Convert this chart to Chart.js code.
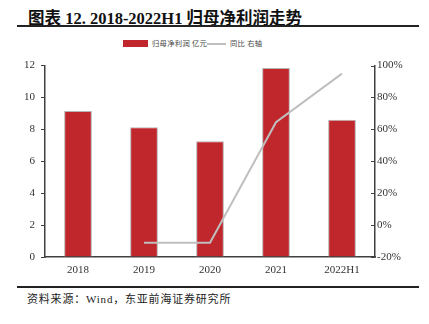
<!DOCTYPE html>
<html>
<head>
<meta charset="utf-8">
<script src="https://cdn.jsdelivr.net/npm/chart.js@4.4.0/dist/chart.umd.min.js"></script>
<style>
    body { margin: 0; width: 429px; height: 324px; background: #fff; position: relative; overflow: hidden; }
    #title { position: absolute; left: 28px; top: 5px; font: bold 16.5px "Liberation Serif", "Noto Sans CJK SC", serif; color: #111; white-space: nowrap; }
    .rule { position: absolute; left: 17px; width: 402px; height: 2px; background: #222; }
    #legend { position: absolute; top: 38px; left: 0; width: 429px; font: 7.3px "Noto Sans CJK SC", sans-serif; color: #444; letter-spacing: 0.3px; }
    #legend span { position: absolute; top: 0; white-space: nowrap; line-height: 10px; }
    #source { position: absolute; left: 27px; top: 290px; font: 11px "Liberation Serif", "Noto Sans CJK SC", serif; color: #222; white-space: nowrap; letter-spacing: 0.8px; }
    #wrap { position: absolute; left: 0; top: 53px; width: 429px; height: 226px; }
</style>
</head>
<body>
<div id="title">图表 12. 2018-2022H1 归母净利润走势</div>
<div class="rule" style="top:25px"></div>
<div id="legend">
    <span style="left:123px;top:2px;width:25px;height:7px;background:#C0272D"></span>
    <span style="left:152px">归母净利润 亿元</span>
    <span style="left:207px;top:5px;width:19px;height:1.5px;background:#BFBFBF"></span>
    <span style="left:230px">同比 右轴</span>
</div>
<div id="wrap"><canvas id="chart"></canvas></div>
<div class="rule" style="top:286px"></div>
<div id="source">资料来源：Wind，东亚前海证券研究所</div>

<script>
const categories = ['2018', '2019', '2020', '2021', '2022H1'];
const profitValues = [9.15, 8.14, 7.25, 11.85, 8.6];
const yoyValues = [null, -11, -11, 64.5, 95];
const leftTicks = [0, 2, 4, 6, 8, 10, 12];
const rightTicks = [-20, 0, 20, 40, 60, 80, 100];

const tickFont = { family: 'Liberation Serif', size: 11 };

// 오른쪽 축 눈금은 안쪽으로 그림
const innerTicks = {
    id: 'innerTicks',
    afterDraw(chart) {
        const scale = chart.scales.yRight;
        const ctx = chart.ctx;
        ctx.save();
        ctx.strokeStyle = '#404040';
        ctx.lineWidth = 1;
        rightTicks.forEach(v => {
            const y = Math.round(scale.getPixelForValue(v)) + 0.5;
            ctx.beginPath();
            ctx.moveTo(scale.left - 4, y);
            ctx.lineTo(scale.left, y);
            ctx.stroke();
        });
        ctx.restore();
    }
};

new Chart(document.getElementById('chart'), {
    type: 'bar',
    data: {
        labels: categories,
        datasets: [{
            label: '归母净利润 亿元',
            data: profitValues,
            backgroundColor: '#C0272D',
            borderColor: '#B5B5B5',
            borderWidth: { left: 1, right: 1, top: 1, bottom: 0 },
            categoryPercentage: 1,
            barPercentage: 0.42,
            yAxisID: 'y',
            order: 2
        }, {
            type: 'line',
            label: '同比 右轴',
            data: yoyValues,
            borderColor: '#BFBFBF',
            borderWidth: 2,
            pointRadius: 0,
            tension: 0,
            yAxisID: 'yRight',
            order: 1
        }]
    },
    plugins: [innerTicks],
    options: {
        responsive: true,
        maintainAspectRatio: false,
        animation: false,
        layout: { padding: { top: 2, left: 0, right: 0, bottom: 0 } },
        plugins: { legend: { display: false }, tooltip: { enabled: false } },
        scales: {
            x: {
                grid: { display: false, drawTicks: false },
                border: { display: true, color: '#404040', width: 1.5 },
                ticks: { color: '#333', font: tickFont, padding: 7 },
                afterFit: s => { s.height = 22; }
            },
            y: {
                position: 'left',
                min: 0, max: 12,
                afterBuildTicks: s => { s.ticks = leftTicks.map(v => ({ value: v })); },
                grid: { drawOnChartArea: false, drawTicks: true, tickLength: 4, color: '#404040' },
                border: { display: true, color: '#404040', width: 1.5 },
                ticks: { color: '#333', font: tickFont, padding: 6 },
                afterFit: s => { s.width = 45; }
            },
            yRight: {
                position: 'right',
                min: -20, max: 100,
                afterBuildTicks: s => { s.ticks = rightTicks.map(v => ({ value: v })); },
                grid: { display: false, drawTicks: false },
                border: { display: true, color: '#404040', width: 1.5 },
                ticks: { color: '#333', font: tickFont, padding: 2, callback: v => v + '%' },
                afterFit: s => { s.width = 54; }
            }
        }
    }
});
</script>
</body>
</html>
